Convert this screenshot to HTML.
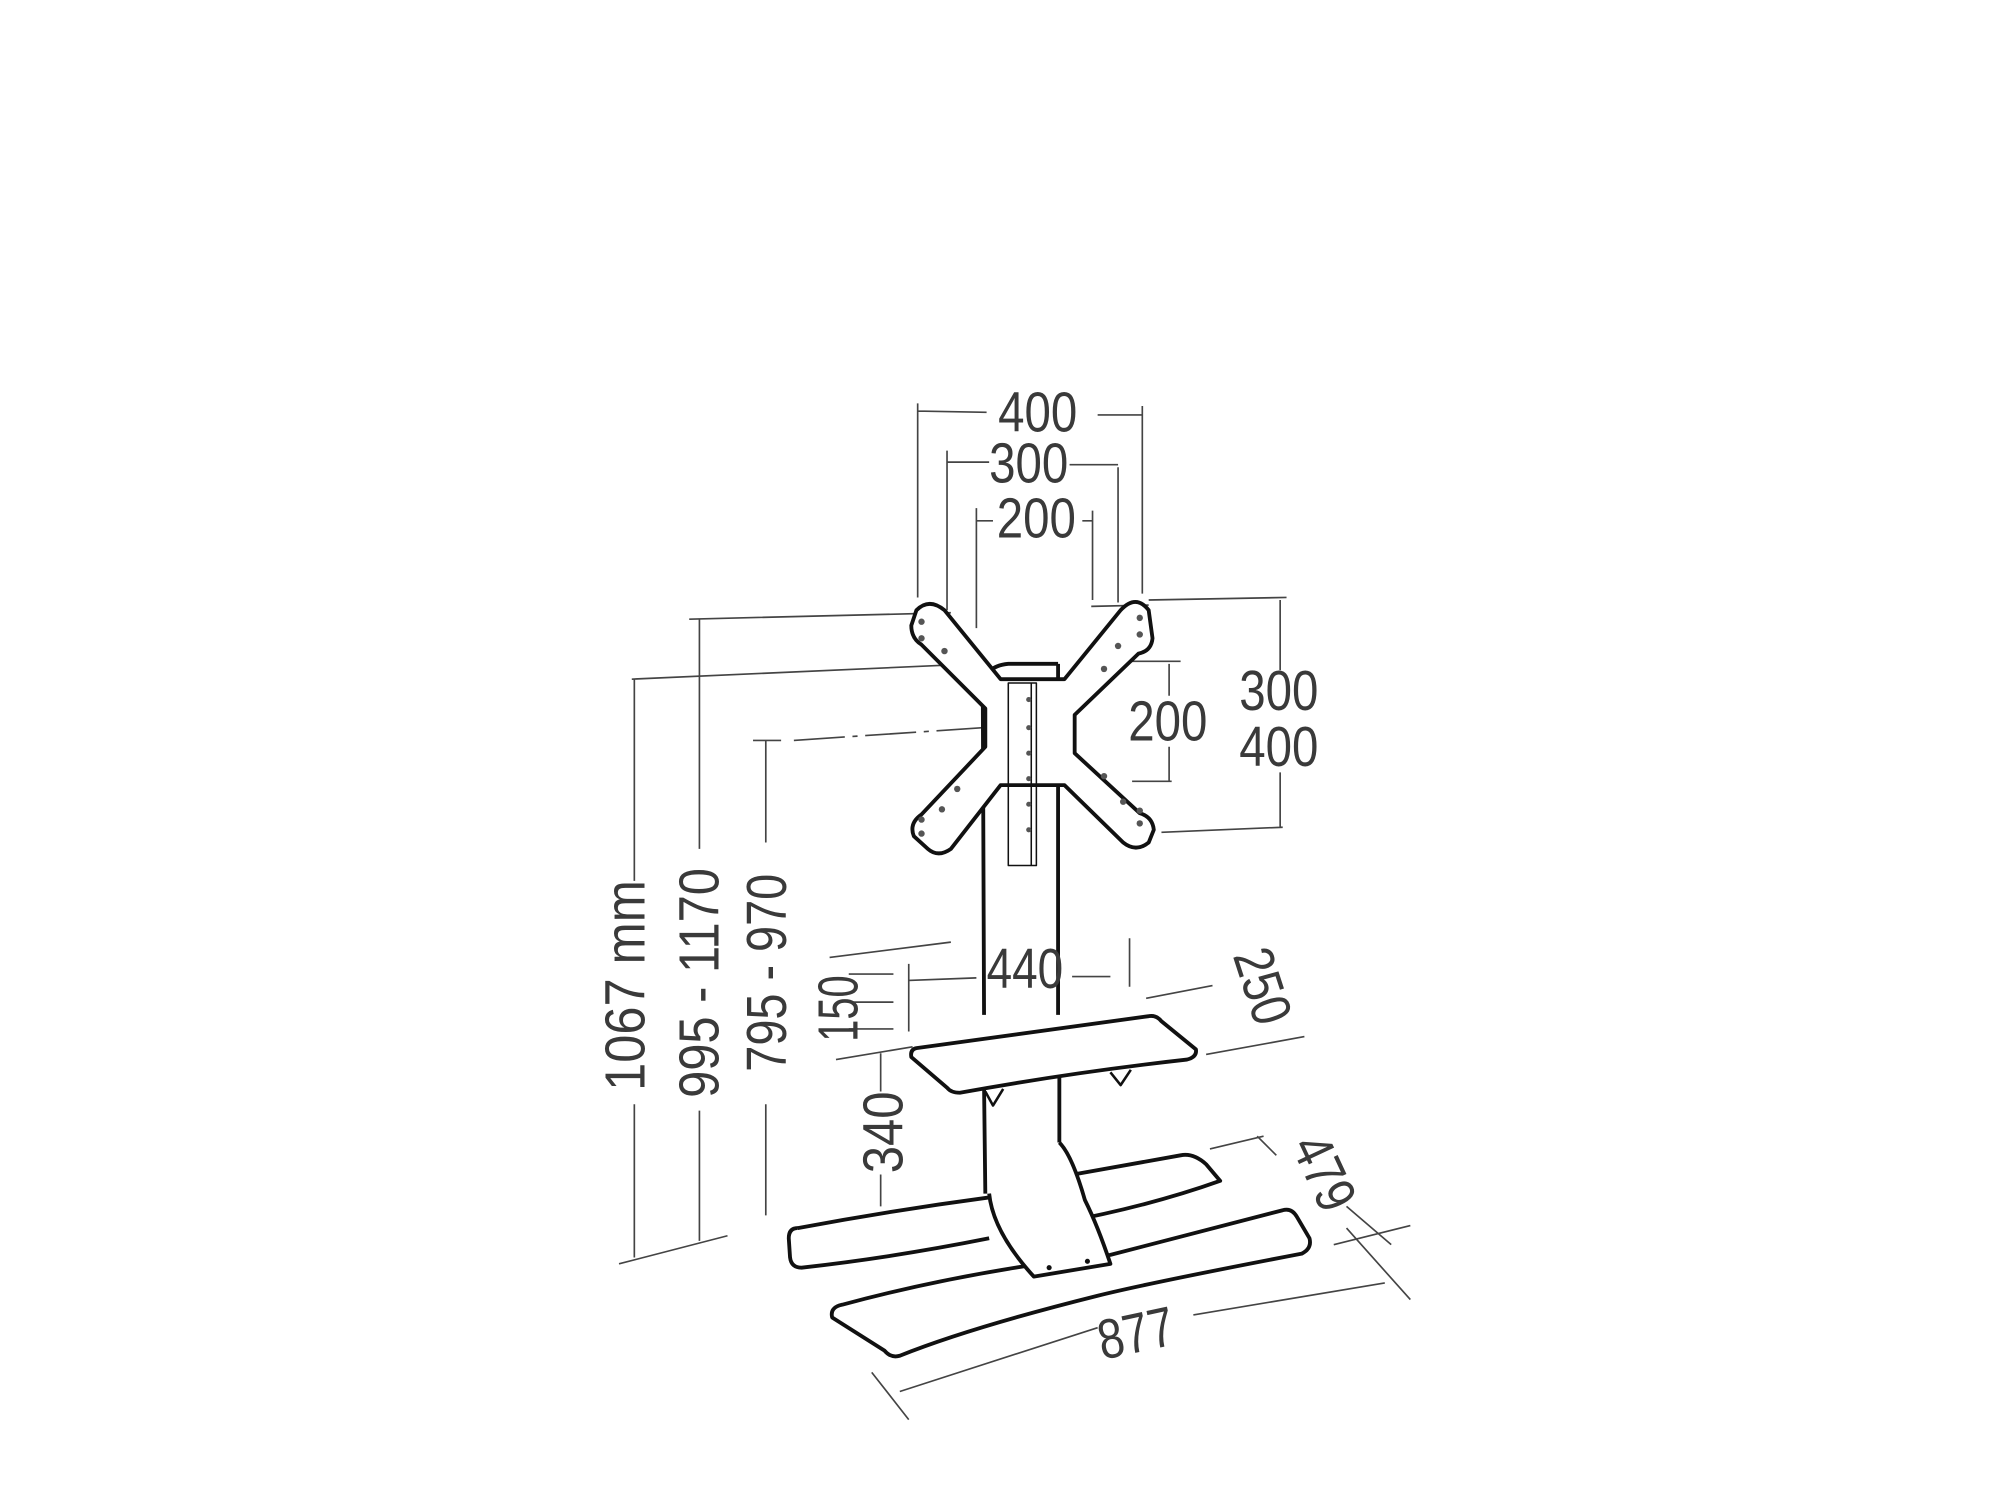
<!DOCTYPE html>
<html><head><meta charset="utf-8"><style>
html,body{margin:0;padding:0;background:#fff;}
svg{display:block;}
text{font-family:"Liberation Sans",sans-serif;fill:#3a3a3a;font-size:44px;}
</style></head><body>
<svg width="2000" height="1500" viewBox="0 0 1567 1175" preserveAspectRatio="none" xmlns="http://www.w3.org/2000/svg">
<g stroke="#444" stroke-width="1.3" fill="none">
<path d="M719 468 L719 316 M719 322 L773 323 M860 325 L895 325 M895 318 L895 465"/>
<path d="M742 478 L742 353 M742 362 L775 362 M838 364 L876 364 M876 366 L876 472"/>
<path d="M765 492 L765 398 M765 408 L778 408 M848 408 L856 408 M856 400 L856 470"/>
<path d="M885 518 L925 518 M916 520 L916 545 M916 585 L916 612 M887 612 L918 612"/>
<path d="M900 470 L1008 468 M1003 470 L1003 525 M1003 605 L1003 648 M910 652 L1005 648"/>
<path d="M540 485 L745 480 M855 475 L900 474"/>
<path d="M495 532 L765 520"/>
<path d="M590 580 L612 580"/>
<path d="M622 580 L770 570" stroke-dasharray="40 6 4 6"/>
<path d="M497 532 L497 690 M497 865 L497 985 M485 990 L570 968"/>
<path d="M548 485 L548 665 M548 870 L548 972"/>
<path d="M600 580 L600 660 M600 865 L600 952"/>
<path d="M650 750 L745 738 M665 763 L700 763 M665 785 L700 785 M665 806 L700 806 M712 755 L712 808 M712 768 L765 766 M840 765 L870 765 M885 735 L885 773"/>
<path d="M655 830 L715 820"/>
<path d="M690 825 L690 855 M690 920 L690 945"/>
<path d="M898 782 L950 772 M945 826 L1022 812"/>
<path d="M948 900 L990 890 M985 890 L1000 905 M1045 975 L1105 960 M1055 945 L1090 975"/>
<path d="M683 1075 L712 1112 M705 1090 L860 1040 M935 1030 L1085 1005 M1055 962 L1105 1018"/>
</g>

<g stroke="#111" stroke-width="3" fill="#fff" stroke-linejoin="round">
<path d="M770 540 L771 795 M829 520 L829 795 M771 850 L772 935 M830 840 L830 895" fill="none"/>
<path d="M770 540 Q770 522 790 520 L829 520" fill="none"/>
<path d="M625 962 Q700 948 775 938 M830 922 L925 905 Q935 903 945 912 L956 925 Q900 945 830 958 M775 970 Q700 985 628 993 Q620 993 619 985 L618 970 Q618 962 625 962" fill="none"/>
<path d="M660 1022 Q760 995 870 983 L1005 948 Q1012 946 1016 953 L1026 970 Q1028 978 1020 982 Q900 1005 860 1015 Q760 1040 705 1062 Q698 1064 693 1058 L652 1032 Q650 1024 660 1022 Z"/>
<path d="M775 935 Q778 965 810 1000 L870 990 Q860 960 850 940 Q840 905 830 895" fill="#fff"/>
<circle cx="822" cy="993" r="2" fill="#111" stroke="none"/><circle cx="852" cy="988" r="2" fill="#111" stroke="none"/>
<path d="M718 821 L900 796 Q906 795 910 800 L937 822 Q938 828 930 830 Q840 840 752 856 Q745 856 742 852 L714 828 Q713 822 718 821 Z"/>
<path d="M772 855 L778 866 L786 853 M870 840 L878 850 L886 838" fill="none" stroke-width="2"/>
<path d="M718 478 Q728 468 740 478 L784 532 L834 532 L878 478 Q890 465 900 478 L903 500 Q902 510 892 512 L842 560 L842 590 L893 637 Q903 640 904 650 L900 660 Q890 668 880 660 L834 615 L784 615 L745 665 Q735 672 727 665 L716 655 Q712 645 722 638 L772 585 L772 555 L722 505 Q714 500 714 490 Z"/>
<path d="M790 535 L790 678 L812 678 L812 535 Z M808 535 L808 678" fill="none" stroke-width="1.2"/>
</g>
<g fill="#555">
<circle cx="722" cy="487" r="2.5"/><circle cx="722" cy="500" r="2.5"/><circle cx="740" cy="510" r="2.5"/>
<circle cx="893" cy="484" r="2.5"/><circle cx="893" cy="497" r="2.5"/><circle cx="876" cy="506" r="2.5"/><circle cx="865" cy="524" r="2.5"/>
<circle cx="722" cy="653" r="2.5"/><circle cx="722" cy="642" r="2.5"/><circle cx="738" cy="634" r="2.5"/><circle cx="750" cy="618" r="2.5"/>
<circle cx="893" cy="645" r="2.5"/><circle cx="893" cy="635" r="2.5"/><circle cx="880" cy="628" r="2.5"/><circle cx="865" cy="608" r="2.5"/>
<circle cx="806" cy="548" r="2"/><circle cx="806" cy="570" r="2"/><circle cx="806" cy="590" r="2"/><circle cx="806" cy="610" r="2"/><circle cx="806" cy="630" r="2"/><circle cx="806" cy="650" r="2"/>
</g>

<text x="813" y="338" text-anchor="middle" textLength="62" lengthAdjust="spacingAndGlyphs">400</text>
<text x="806" y="378" text-anchor="middle" textLength="62" lengthAdjust="spacingAndGlyphs">300</text>
<text x="812" y="421" text-anchor="middle" textLength="62" lengthAdjust="spacingAndGlyphs">200</text>
<text x="915" y="580" text-anchor="middle" textLength="62" lengthAdjust="spacingAndGlyphs">200</text>
<text x="1002" y="556" text-anchor="middle" textLength="62" lengthAdjust="spacingAndGlyphs">300</text>
<text x="1002" y="600" text-anchor="middle" textLength="62" lengthAdjust="spacingAndGlyphs">400</text>
<text x="803" y="774" text-anchor="middle" textLength="60" lengthAdjust="spacingAndGlyphs">440</text>
<text transform="translate(505,772) rotate(-90)" text-anchor="middle" textLength="165" lengthAdjust="spacingAndGlyphs">1067 mm</text>
<text transform="translate(563,770) rotate(-90)" text-anchor="middle" textLength="180" lengthAdjust="spacingAndGlyphs">995 - 1170</text>
<text transform="translate(616,762) rotate(-90)" text-anchor="middle" textLength="155" lengthAdjust="spacingAndGlyphs">795 - 970</text>
<text transform="translate(672,790) rotate(-90)" text-anchor="middle" textLength="52" lengthAdjust="spacingAndGlyphs">150</text>
<text transform="translate(707,887) rotate(-90)" text-anchor="middle" textLength="64" lengthAdjust="spacingAndGlyphs">340</text>
<text transform="translate(975,777) rotate(72)" text-anchor="middle" textLength="60" lengthAdjust="spacingAndGlyphs">250</text>
<text transform="translate(1024,925) rotate(65)" text-anchor="middle" textLength="60" lengthAdjust="spacingAndGlyphs">479</text>
<text transform="translate(893,1059) rotate(-12)" text-anchor="middle" textLength="60" lengthAdjust="spacingAndGlyphs">877</text>
</svg>
</body></html>
